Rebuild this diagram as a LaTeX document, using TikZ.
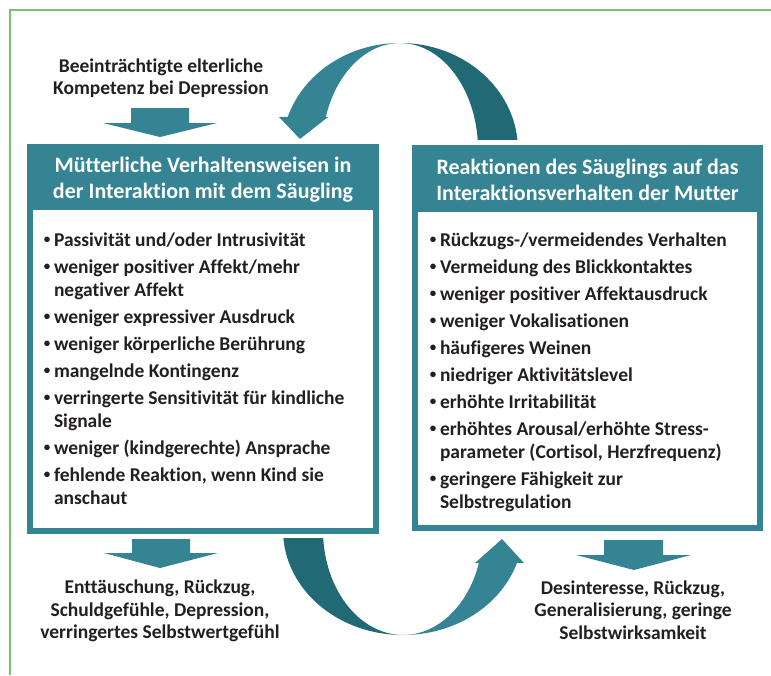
\documentclass[tikz,border=0pt]{standalone}
\usepackage{fontspec}
\setmainfont{Carlito}[Ligatures = NoCommon]
\usepackage{tikz}

\definecolor{kopfblau}{HTML}{348493}
\definecolor{bogendunkel}{HTML}{216A75}
\definecolor{rahmengruen}{HTML}{76C46B}
\definecolor{schrift}{HTML}{231F20}

\newcommand{\punkt}{\makebox[14pt][c]{\raisebox{3pt}{\fontsize{13}{13}\selectfont•}}}

\begin{document}
\begin{tikzpicture}[x = 1pt, y = -1pt,
    every node/.style = { inner sep = 0pt, outer sep = 0pt },
    kasten/.style = { fill = kopfblau, shape = rectangle },
    innen/.style = { fill = white, shape = rectangle },
    kopf/.style = { align = center, text = white, font = \fontsize{22}{26}\selectfont\bfseries },
    liste/.style = { align = left, text = schrift, font = \fontsize{19.5}{23}\selectfont\bfseries },
    folge/.style = { align = center, text = schrift, font = \fontsize{19.5}{22.5}\selectfont\bfseries }]
    \useasboundingbox (0,0) rectangle (771,675);
    \draw [rahmengruen, line width = 2.5pt] (10,675) -- (10,10) -- (771,10);

    % Kaesten
    \node [kasten, minimum width = 352pt, minimum height = 390pt] (links) at (203,339) {};
    \node [innen, minimum width = 340pt, minimum height = 318pt] (linksliste) at (203,369) {};
    \node [kopf] (linkskopf) at (203,180) {Mütterliche Verhaltensweisen in\\der Interaktion mit dem Säugling};
    \node [kasten, minimum width = 351pt, minimum height = 386pt] (rechts) at (587.5,338) {};
    \node [innen, minimum width = 339pt, minimum height = 313pt] (rechtsliste) at (587.5,368.5) {};
    \node [kopf] (rechtskopf) at (587.5,180) {Reaktionen des Säuglings auf das\\Interaktionsverhalten der Mutter};

    \node [liste, anchor = base west] (mutterpunkte) at (40,246) {\begin{tabular}[t]{@{}l@{}l@{}}
      \punkt & Passivität und/oder Intrusivität \\[4pt]
      \punkt & weniger positiver Affekt/mehr \\ & negativer Affekt \\[4pt]
      \punkt & weniger expressiver Ausdruck \\[4pt]
      \punkt & weniger körperliche Berührung \\[4pt]
      \punkt & mangelnde Kontingenz \\[4pt]
      \punkt & verringerte Sensitivität für kindliche \\ & Signale \\[4pt]
      \punkt & weniger (kindgerechte) Ansprache \\[4pt]
      \punkt & fehlende Reaktion, wenn Kind sie \\ & anschaut
    \end{tabular}};
    \node [liste, anchor = base west] (kindpunkte) at (426,246) {\begin{tabular}[t]{@{}l@{}l@{}}
      \punkt & Rückzugs-/vermeidendes Verhalten \\[4pt]
      \punkt & Vermeidung des Blickkontaktes \\[4pt]
      \punkt & weniger positiver Affektausdruck \\[4pt]
      \punkt & weniger Vokalisationen \\[4pt]
      \punkt & häufigeres Weinen \\[4pt]
      \punkt & niedriger Aktivitätslevel \\[4pt]
      \punkt & erhöhte Irritabilität \\[4pt]
      \punkt & erhöhtes Arousal/erhöhte Stress- \\ & parameter (Cortisol, Herzfrequenz) \\[4pt]
      \punkt & geringere Fähigkeit zur \\ & Selbstregulation
    \end{tabular}};

    % Texte ausserhalb
    \node [folge] (kompetenz) at (161,78) {Beeinträchtigte elterliche\\Kompetenz bei Depression};
    \node [folge] (folgemutter) at (160,611) {Enttäuschung, Rückzug,\\Schuldgefühle, Depression,\\verringertes Selbstwertgefühl};
    \node [folge] (folgekind) at (633,610) {Desinteresse, Rückzug,\\Generalisierung, geringe\\Selbstwirksamkeit};

    % Blockpfeile
    \fill [kopfblau] (131,108) -- (189,108) -- (189,123) -- (217,123) -- (160,137) -- (103,123) -- (131,123) -- cycle;
    \fill [kopfblau] (132,539) -- (190,539) -- (190,553) -- (218,553) -- (160,568) -- (104,553) -- (132,553) -- cycle;
    \fill [kopfblau] (604,540) -- (663,540) -- (663,555) -- (691,555) -- (634,570) -- (576,555) -- (604,555) -- cycle;

    % Bogen oben
    \fill [bogendunkel] (400,43) arc [start angle = -90, end angle = -5.4, x radius = 118, y radius = 107]
      -- (477.7,140) arc [start angle = -5.4, end angle = -90, x radius = 78, y radius = 107] -- cycle;
    \fill [kopfblau] (400,43) arc [start angle = -90, end angle = -162, x radius = 118, y radius = 107]
      -- (279,117) -- (300,139) -- (328,117) -- (325.8,117)
      arc [start angle = -162, end angle = -90, x radius = 78, y radius = 107] -- cycle;

    % Bogen unten
    \fill [bogendunkel] (403,635) arc [start angle = 90, end angle = 175.6, x radius = 120, y radius = 105]
      -- (323.2,538) arc [start angle = 175.6, end angle = 90, x radius = 80, y radius = 105] -- cycle;
    \fill [kopfblau] (403,635) arc [start angle = 90, end angle = 18.3, x radius = 120, y radius = 105]
      -- (524,563) -- (502,539) -- (475,563) -- (478.9,563)
      arc [start angle = 18.3, end angle = 90, x radius = 80, y radius = 105] -- cycle;
\end{tikzpicture}
\end{document}
